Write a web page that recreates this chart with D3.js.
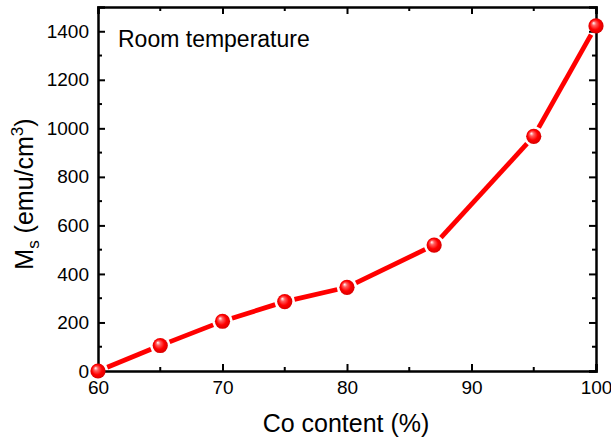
<!DOCTYPE html>
<html><head><meta charset="utf-8">
<script src="https://cdn.jsdelivr.net/npm/d3@7"></script>
<style>body{margin:0;background:#fff}svg{display:block}text{font-family:"Liberation Sans",Arial,sans-serif;fill:#000}</style>
</head><body>
<script>
const coContent = [60, 65, 70, 75, 80, 87, 95, 100];
const msValues = [0, 105, 205, 286, 345, 519, 967, 1422];
const xTicks = [60, 70, 80, 90, 100];
const yTicks = [0, 200, 400, 600, 800, 1000, 1200, 1400];
const annotation = "Room temperature";

(function () {
const W = 611, H = 441;
const m = {l: 98, r: 15, t: 7, b: 70};
const svg = d3.select("body").append("svg").attr("width", W).attr("height", H);
const x = d3.scaleLinear().domain([60, 100]).range([m.l, W - m.r]);
const y = d3.scaleLinear().domain([0, 1500]).range([H - m.b, m.t]);

const defs = svg.append("defs");
const g = defs.append("radialGradient").attr("id", "ball").attr("cx", "0.5").attr("cy", "0.5").attr("r", "0.55").attr("fx", "0.33").attr("fy", "0.3");
g.append("stop").attr("offset", "0").attr("stop-color", "#ffffff");
g.append("stop").attr("offset", "0.25").attr("stop-color", "#ff6060");
g.append("stop").attr("offset", "0.6").attr("stop-color", "#ff0000");
g.append("stop").attr("offset", "1").attr("stop-color", "#d00000");

const axW = 2.5;
const axBottom = svg.append("g").attr("transform", `translate(0,${y(0)})`)
  .call(d3.axisBottom(x).tickValues(xTicks).tickSize(-7).tickPadding(10).tickFormat(d3.format("d")));
const axTop = svg.append("g").attr("transform", `translate(0,${y(1500)})`)
  .call(d3.axisTop(x).tickValues(xTicks).tickSize(-7).tickFormat(""));
const axLeft = svg.append("g").attr("transform", `translate(${x(60)},0)`)
  .call(d3.axisLeft(y).tickValues(yTicks).tickSize(-7).tickPadding(9).tickFormat(d3.format("d")));
const axRight = svg.append("g").attr("transform", `translate(${x(100)},0)`)
  .call(d3.axisRight(y).tickValues(yTicks).tickSize(-7).tickFormat(""));
const xMinor = d3.range(65, 100, 10);
const yMinor = d3.range(100, 1500, 200);
axBottom.selectAll(".mn").data(xMinor).enter().append("line").attr("x1", d => x(d)).attr("x2", d => x(d)).attr("y1", 0).attr("y2", -4).attr("stroke", "#000").attr("stroke-width", 2);
axTop.selectAll(".mn").data(xMinor).enter().append("line").attr("x1", d => x(d)).attr("x2", d => x(d)).attr("y1", 0).attr("y2", 4).attr("stroke", "#000").attr("stroke-width", 2);
axLeft.selectAll(".mn").data(yMinor).enter().append("line").attr("y1", d => y(d)).attr("y2", d => y(d)).attr("x1", 0).attr("x2", 4).attr("stroke", "#000").attr("stroke-width", 2);
axRight.selectAll(".mn").data(yMinor).enter().append("line").attr("y1", d => y(d)).attr("y2", d => y(d)).attr("x1", 0).attr("x2", -4).attr("stroke", "#000").attr("stroke-width", 2);
[axBottom, axTop, axLeft, axRight].forEach(a => {
  a.select(".domain").attr("stroke-width", axW).attr("stroke", "#000");
  a.selectAll(".tick line").attr("stroke-width", 2).attr("stroke", "#000");
  a.selectAll("text").style("font-size", "19px").style("font-family", "Liberation Sans, Arial, sans-serif").attr("fill", "#000");
});

const gap = 10;
const pts = coContent.map((c, i) => [x(c), y(msValues[i])]);
const segs = [];
for (let i = 0; i < pts.length - 1; i++) {
  const [x1, y1] = pts[i], [x2, y2] = pts[i + 1];
  const L = Math.hypot(x2 - x1, y2 - y1), ux = (x2 - x1) / L, uy = (y2 - y1) / L;
  segs.push([x1 + ux * gap, y1 + uy * gap, x2 - ux * gap, y2 - uy * gap]);
}
svg.append("g").selectAll("line").data(segs).enter().append("line")
  .attr("x1", d => d[0]).attr("y1", d => d[1]).attr("x2", d => d[2]).attr("y2", d => d[3])
  .attr("stroke", "#ff0000").attr("stroke-width", 4.8);
svg.append("g").selectAll("circle").data(coContent).enter().append("circle")
  .attr("cx", d => x(d)).attr("cy", (d, i) => y(msValues[i])).attr("r", 7.6)
  .attr("fill", "url(#ball)");

svg.append("text").attr("x", 118).attr("y", 47).style("font-size", "23px").text(annotation);
svg.append("text").attr("x", (x(60) + x(100)) / 2 - 1).attr("y", 432).attr("text-anchor", "middle").style("font-size", "25px").text("Co content (%)");
const yl = svg.append("text").attr("transform", `translate(33,194) rotate(-90)`).attr("text-anchor", "middle").style("font-size", "25px");
yl.append("tspan").text("M");
yl.append("tspan").attr("dy", 6).style("font-size", "17px").text("s");
yl.append("tspan").attr("dy", -6).text(" (emu/cm");
yl.append("tspan").attr("dy", -10).style("font-size", "17px").text("3");
yl.append("tspan").attr("dy", 10).text(")");
})();
</script>
</body></html>
